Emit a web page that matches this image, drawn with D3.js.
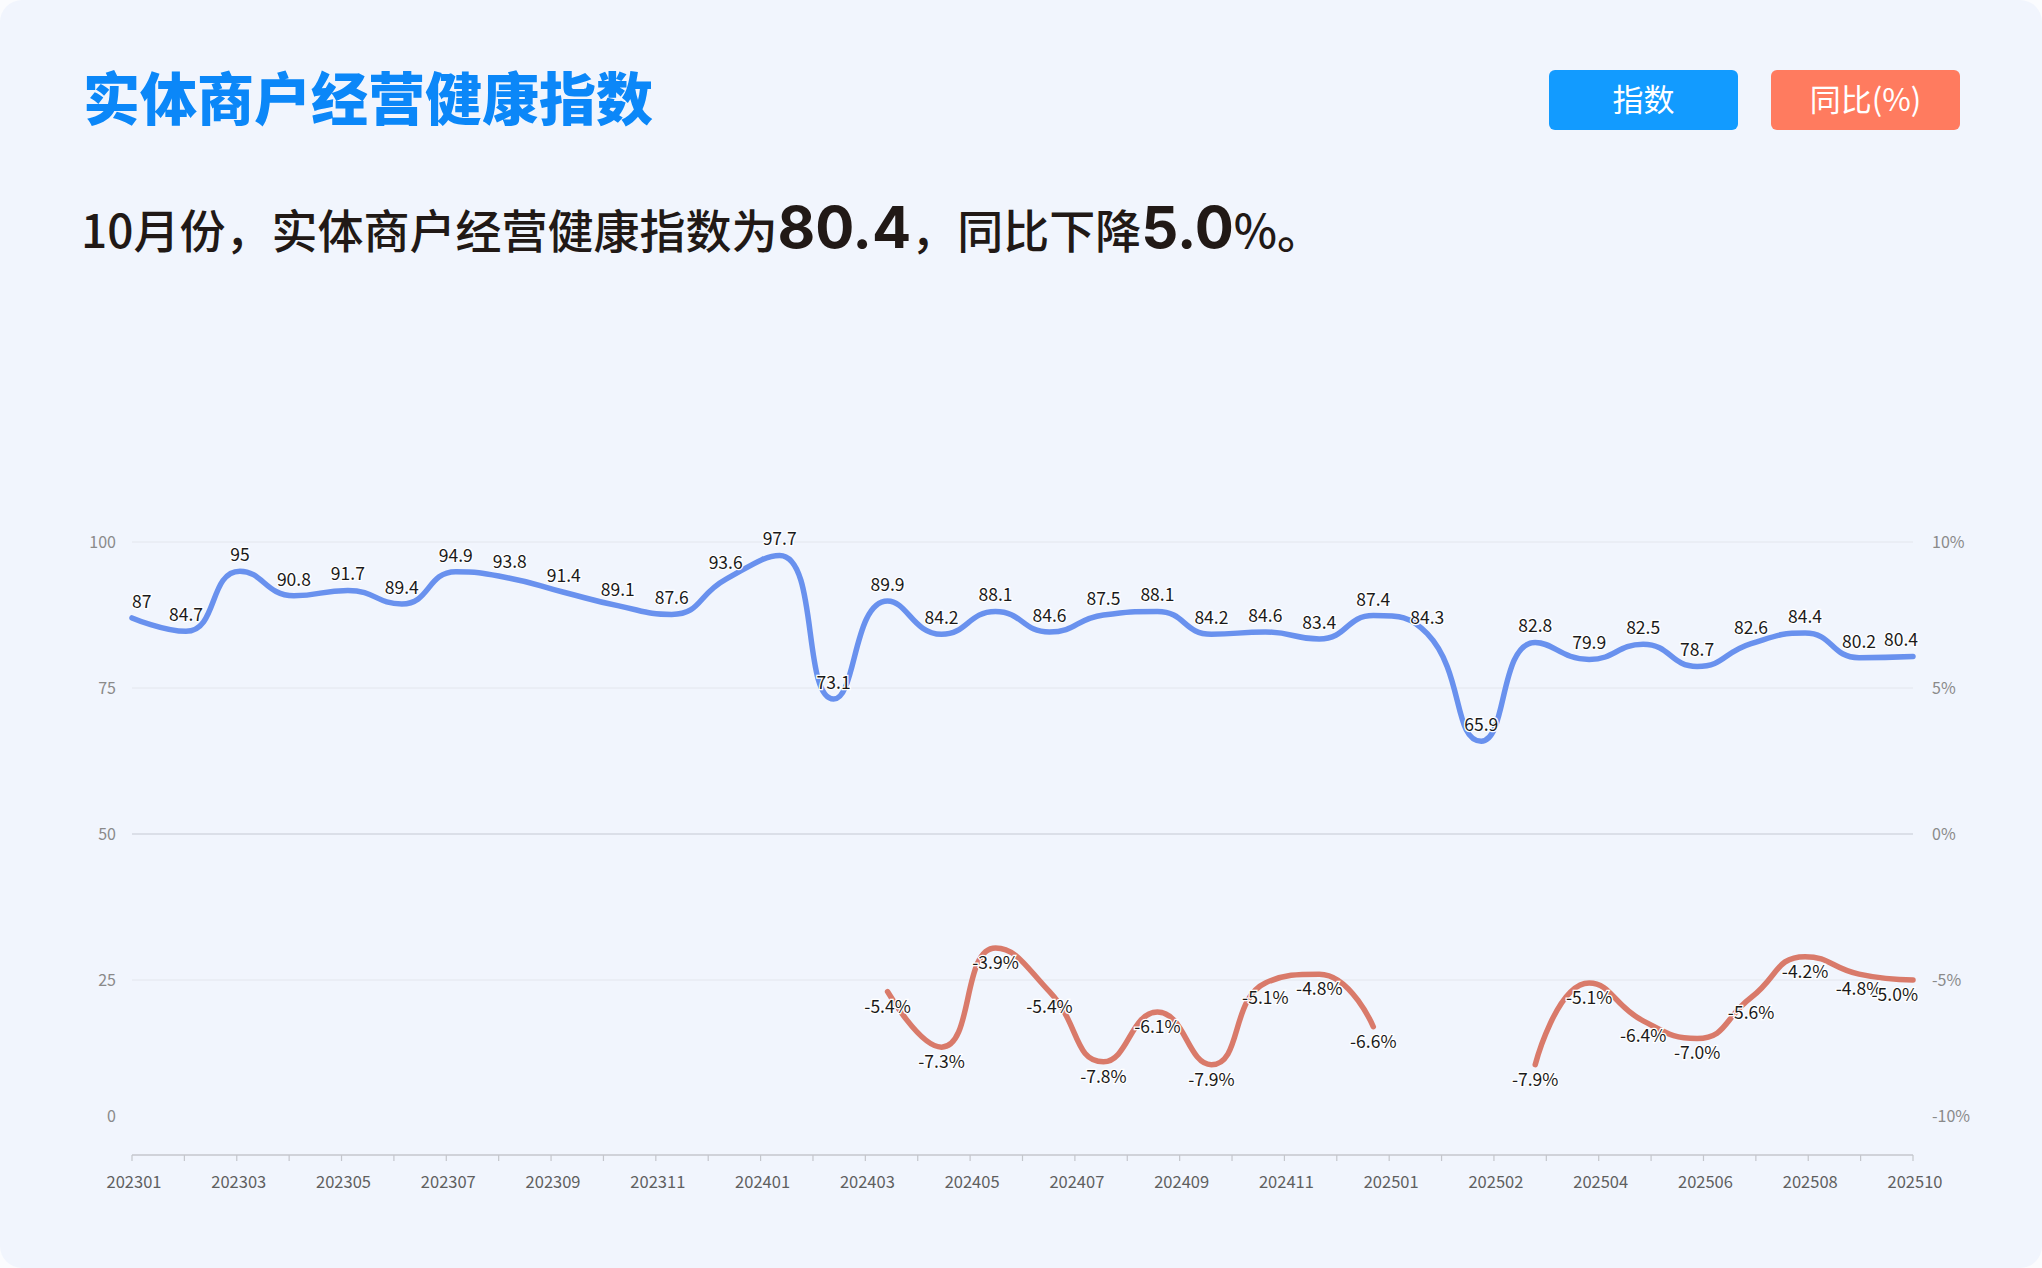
<!DOCTYPE html>
<html>
<head>
<meta charset="utf-8">
<script src="https://cdn.jsdelivr.net/npm/d3@7"></script>
<style>
  html, body { margin: 0; padding: 0; background: #fbfcfe; }
  svg { display: block; font-family: "Noto Sans CJK SC", "Noto Sans", sans-serif; }
</style>
</head>
<body>
<svg id="chart" width="2042" height="1268"></svg>
<script>
// months for the two series
var months = [
  '202301','202302','202303','202304','202305','202306','202307','202308','202309','202310','202311','202312',
  '202401','202402','202403','202404','202405','202406','202407','202408','202409','202410','202411','202412',
  '202501','202502','202503','202504','202505','202506','202507','202508','202509','202510'
];
// health index
var indexValues = [
  87, 84.7, 95, 90.8, 91.7, 89.4, 94.9, 93.8, 91.4, 89.1, 87.6, 93.6,
  97.7, 73.1, 89.9, 84.2, 88.1, 84.6, 87.5, 88.1, 84.2, 84.6, 83.4, 87.4,
  84.3, 65.9, 82.8, 79.9, 82.5, 78.7, 82.6, 84.4, 80.2, 80.4
];
// year over year (%)
var yoyValues = [
  null, null, null, null, null, null, null, null, null, null, null, null,
  null, null, -5.4, -7.3, -3.9, -5.4, -7.8, -6.1, -7.9, -5.1, -4.8, -6.6,
  null, null, -7.9, -5.1, -6.4, -7.0, -5.6, -4.2, -4.8, -5.0
];
// x axis labels as printed (one every other tick)
var axisLabels = ['202301','202303','202305','202307','202309','202311','202401','202403','202405',
  '202407','202409','202411','202501','202502','202504','202506','202508','202510'];
var leftTicks = [0, 25, 50, 75, 100];
var rightTicks = [-10, -5, 0, 5, 10];

var svg = d3.select('#chart');

// card
svg.append('rect')
  .attr('x', 0).attr('y', 0).attr('width', 2042).attr('height', 1268)
  .attr('rx', 22).attr('fill', '#f1f5fd');

// title
svg.append('text')
  .attr('x', 83).attr('y', 120)
  .attr('font-size', 57).attr('font-weight', 900)
  .attr('fill', '#0b87f8')
  .text('实体商户经营健康指数');

// legend buttons
var legend = [
  { name: '指数', color: '#129bff', x: 1549 },
  { name: '同比(%)', color: '#ff7b5f', x: 1771 }
];
var lg = svg.selectAll('.legend').data(legend).enter().append('g').attr('class', 'legend');
lg.append('rect')
  .attr('x', function(d) { return d.x; }).attr('y', 70)
  .attr('width', 189).attr('height', 60).attr('rx', 6)
  .attr('fill', function(d) { return d.color; });
lg.append('text')
  .attr('x', function(d) { return d.x + 94.5; }).attr('y', 111)
  .attr('text-anchor', 'middle').attr('font-size', 31).attr('fill', '#fff')
  .text(function(d) { return d.name; });

// subtitle
var sub = svg.append('text').attr('x', 81).attr('y', 248).attr('fill', '#211916');
var last = indexValues.length - 1;
var parts = [
  { t: '10月份，实体商户经营健康指数为', big: false },
  { t: String(indexValues[last]), big: true },
  { t: '，同比下降', big: false },
  { t: Math.abs(yoyValues[last]).toFixed(1), big: true },
  { t: '%。', big: false }
];
parts.forEach(function(p) {
  sub.append('tspan')
    .attr('font-size', p.big ? 58 : 46)
    .attr('font-weight', p.big ? 700 : 500)
    .attr('font-family', p.big ? 'Inter, "Noto Sans CJK SC", sans-serif' : null)
    .text(p.t);
});

// scales
var x = d3.scalePoint().domain(months).range([132, 1913]);
var yL = d3.scaleLinear().domain([0, 100]).range([1126, 542]);
var yR = d3.scaleLinear().domain([-10, 10]).range([1126, 542]);
var tickPos = d3.scaleLinear().domain([0, 34]).range([132, 1913]);

// grid
svg.append('g').selectAll('line')
  .data(leftTicks.filter(function(d) { return d > 0; }))
  .enter().append('line')
  .attr('x1', 132).attr('x2', 1913)
  .attr('y1', function(d) { return yL(d); }).attr('y2', function(d) { return yL(d); })
  .attr('stroke', function(d) { return d === 50 ? '#d3d7e0' : '#e3e6ed'; })
  .attr('stroke-width', function(d) { return d === 50 ? 1.5 : 1; });

// y axis labels (bottom one sits a little higher)
svg.append('g').selectAll('text').data(leftTicks).enter().append('text')
  .attr('x', 116).attr('y', function(d) { return yL(d) + (d === 0 ? -4 : 6); })
  .attr('text-anchor', 'end').attr('font-size', 16).attr('fill', '#8a8a8a')
  .text(function(d) { return d; });
svg.append('g').selectAll('text').data(rightTicks).enter().append('text')
  .attr('x', 1932).attr('y', function(d) { return yR(d) + (d === -10 ? -4 : 6); })
  .attr('text-anchor', 'start').attr('font-size', 16).attr('fill', '#8a8a8a')
  .text(function(d) { return d + '%'; });

// x axis
var xa = svg.append('g');
xa.append('line').attr('x1', 132).attr('x2', 1913).attr('y1', 1155).attr('y2', 1155)
  .attr('stroke', '#c4c6cc').attr('stroke-width', 1.5);
xa.selectAll('.tk').data(d3.range(35)).enter().append('line')
  .attr('class', 'tk')
  .attr('x1', function(d) { return tickPos(d); }).attr('x2', function(d) { return tickPos(d); })
  .attr('y1', 1155).attr('y2', 1161)
  .attr('stroke', '#c4c6cc').attr('stroke-width', 1.2);
xa.selectAll('.lb').data(axisLabels).enter().append('text')
  .attr('class', 'lb')
  .attr('x', function(d, i) { return tickPos(i * 2) + 2; }).attr('y', 1188)
  .attr('text-anchor', 'middle').attr('font-size', 16.5).attr('fill', '#5f5f5f')
  .text(function(d) { return d; });

// echarts-like smooth line (control points clamped between neighbours)
function smoothPath(pts, smooth) {
  var p = d3.path();
  var cpx0, cpy0;
  for (var i = 0; i < pts.length; i++) {
    var px = pts[i][0], py = pts[i][1];
    if (i === 0) { p.moveTo(px, py); cpx0 = px; cpy0 = py; continue; }
    var prevX = pts[i - 1][0], prevY = pts[i - 1][1];
    var cpx1 = px, cpy1 = py, nx0 = px, ny0 = py;
    if (i < pts.length - 1) {
      var nextX = pts[i + 1][0], nextY = pts[i + 1][1];
      var vx = nextX - prevX, vy = nextY - prevY;
      var l0 = Math.hypot(px - prevX, py - prevY);
      var l1 = Math.hypot(nextX - px, nextY - py);
      var r = l1 / (l0 + l1);
      nx0 = px + vx * smooth * r;
      ny0 = py + vy * smooth * r;
      nx0 = Math.max(Math.min(nx0, Math.max(nextX, px)), Math.min(nextX, px));
      ny0 = Math.max(Math.min(ny0, Math.max(nextY, py)), Math.min(nextY, py));
      vx = nx0 - px; vy = ny0 - py;
      cpx1 = px - vx * l0 / l1;
      cpy1 = py - vy * l0 / l1;
      cpx1 = Math.max(Math.min(cpx1, Math.max(prevX, px)), Math.min(prevX, px));
      cpy1 = Math.max(Math.min(cpy1, Math.max(prevY, py)), Math.min(prevY, py));
      vx = px - cpx1; vy = py - cpy1;
      nx0 = px + vx * l1 / l0;
      ny0 = py + vy * l1 / l0;
    }
    p.bezierCurveTo(cpx0, cpy0, cpx1, cpy1, px, py);
    cpx0 = nx0; cpy0 = ny0;
  }
  return p.toString();
}

function segments(values, y) {
  var segs = [], cur = [];
  values.forEach(function(v, i) {
    if (v == null) { if (cur.length) segs.push(cur); cur = []; }
    else cur.push([x(months[i]), y(v)]);
  });
  if (cur.length) segs.push(cur);
  return segs;
}

var series = [
  { values: indexValues, y: yL, color: '#6991ee', fmt: function(v) { return String(v); }, dy: -10 },
  { values: yoyValues, y: yR, color: '#d97a6a', fmt: function(v) { return v.toFixed(1) + '%'; }, dy: 21 }
];

series.forEach(function(s) {
  svg.append('g').selectAll('path').data(segments(s.values, s.y)).enter().append('path')
    .attr('d', function(d) { return smoothPath(d, 0.5); })
    .attr('fill', 'none').attr('stroke', s.color)
    .attr('stroke-width', 5.5).attr('stroke-linecap', 'round').attr('stroke-linejoin', 'round');
});

series.forEach(function(s) {
  var pts = [];
  s.values.forEach(function(v, i) { if (v != null) pts.push({ v: v, m: months[i] }); });
  svg.append('g').selectAll('text').data(pts).enter().append('text')
    .attr('text-anchor', 'middle').attr('font-size', 17.5).attr('fill', '#1a1a1a')
    .attr('stroke', '#fff').attr('stroke-width', 2.5).attr('paint-order', 'stroke')
    .attr('y', function(d) { return s.y(d.v) + s.dy; })
    .text(function(d) { return s.fmt(d.v); })
    .attr('x', function(d) {
      var cx = x(d.m);
      var w = this.getComputedTextLength();
      if (cx + w / 2 > 1918) cx = 1918 - w / 2;
      if (cx - w / 2 < 132) cx = 132 + w / 2;
      return cx;
    });
});
</script>
</body>
</html>
